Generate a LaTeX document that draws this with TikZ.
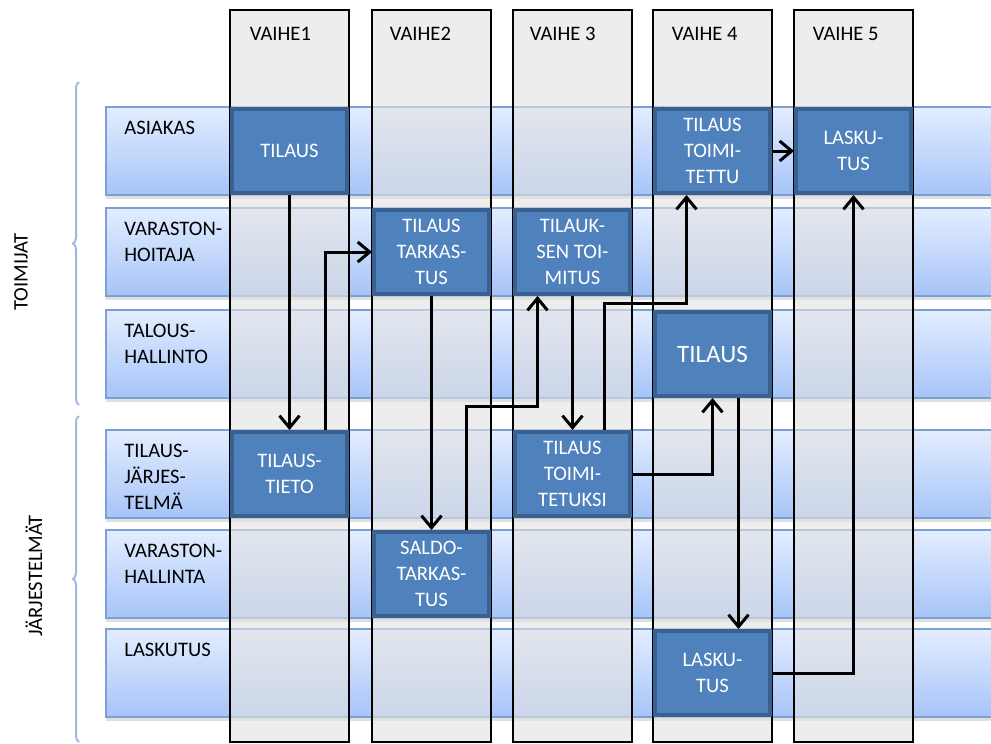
\documentclass[tikz,border=0pt]{standalone}
\usepackage{fontspec}
\setmainfont{Carlito}
\usepackage{xcolor}
\usepackage{tikz}
\usetikzlibrary{arrows.meta, positioning, shadows, decorations.pathreplacing}
\definecolor{lanetop}{HTML}{E3EDFF}
\definecolor{lanebot}{HTML}{A6C4F8}
\definecolor{lanedraw}{HTML}{7C9FD4}
\definecolor{phasefill}{HTML}{E2E2E2}
\definecolor{taskfill}{HTML}{4F81BD}
\definecolor{taskdraw}{HTML}{3A6090}
\definecolor{bracecol}{HTML}{9DB9DE}
\newcommand{\diagfont}{\fontsize{10.3}{13}\selectfont}
\tikzstyle{lane} = [rectangle, anchor=west, minimum width=447.5pt, minimum height=44pt, top color=lanetop, bottom color=lanebot, draw=lanedraw, line width=0.8pt, drop shadow={shadow xshift=0pt, shadow yshift=-2pt, opacity=0.25}]
\tikzstyle{phase} = [rectangle, minimum width=59.5pt, minimum height=366pt, inner sep=0pt, draw=black, line width=0.6pt, fill=phasefill, fill opacity=0.62]
\tikzstyle{lanetext} = [anchor=north west, inner sep=0pt, align=left, font=\diagfont, text=black]
\tikzstyle{phasetext} = [anchor=north west, inner sep=0pt, font=\diagfont, text=black]
\tikzstyle{task} = [rectangle, minimum width=57.5pt, minimum height=42pt, inner sep=1pt, align=center, font=\diagfont, text=white, fill=taskfill, draw=taskdraw, line width=2pt]
\tikzstyle{grouptext} = [rotate=90, inner sep=0pt, font=\diagfont]
\tikzstyle{groupbrace} = [decorate, decoration={brace, amplitude=3pt}, draw=bracecol, line width=1pt]
\tikzstyle{arrow} = [line width=1.5pt, -{Straight Barb[length=6pt, width=10pt]}]

\begin{document}
\begin{tikzpicture}[x=0.5pt, y=-0.5pt]
        \clip (0,0) rectangle (991,744);

        % Lanes
        \node (r1) [lane] at (105,151) {};
        \node (r2) [lane] at (105,252) {};
        \node (r3) [lane] at (105,354) {};
        \node (r4) [lane] at (105,474) {};
        \node (r5) [lane] at (105,574) {};
        \node (r6) [lane] at (105,673) {};

        \node (l1) [lanetext, below right=7.5pt and 9.5pt of r1.north west] {ASIAKAS};
        \node (l2) [lanetext, below right=7.5pt and 9.5pt of r2.north west] {VARASTON-\\HOITAJA};
        \node (l3) [lanetext, below right=7.5pt and 9.5pt of r3.north west] {TALOUS-\\HALLINTO};
        \node (l4) [lanetext, below right=7.5pt and 9.5pt of r4.north west] {TILAUS-\\JÄRJES-\\TELMÄ};
        \node (l5) [lanetext, below right=7.5pt and 9.5pt of r5.north west] {VARASTON-\\HALLINTA};
        \node (l6) [lanetext, below right=7.5pt and 9.5pt of r6.north west] {LASKUTUS};

        % Phases
        \node (c1) [phase] at (289.5,376) {};
        \node (c2) [phase] at (431.5,376) {};
        \node (c3) [phase] at (572.5,376) {};
        \node (c4) [phase] at (712.5,376) {};
        \node (c5) [phase] at (853.5,376) {};

        \node (h1) [phasetext, below right=8.5pt and 10pt of c1.north west] {VAIHE1};
        \node (h2) [phasetext, below right=8.5pt and 9pt of c2.north west] {VAIHE2};
        \node (h3) [phasetext, below right=8.5pt and 8.5pt of c3.north west] {VAIHE 3};
        \node (h4) [phasetext, below right=8.5pt and 9.5pt of c4.north west] {VAIHE 4};
        \node (h5) [phasetext, below right=8.5pt and 9.5pt of c5.north west] {VAIHE 5};

        % Groups
        \draw [groupbrace] (79,405) -- (79,82);
        \draw [groupbrace] (79,742) -- (79,416);
        \node (toimijat) [grouptext] at (21,272) {TOIMIJAT};
        \node (jarj) [grouptext] at (34,576) {JÄRJESTELMÄT};

        % Tasks
        \node (tilaus) [task] at (c1 |- r1) {TILAUS};
        \node (tieto) [task] at (c1 |- r4) {TILAUS-\\TIETO};
        \node (tarkastus) [task] at (c2 |- r2) {TILAUS\\TARKAS-\\TUS};
        \node (saldo) [task] at (c2 |- r5) {SALDO-\\TARKAS-\\TUS};
        \node (toimitus) [task] at (c3 |- r2) {TILAUK-\\SEN TOI-\\MITUS};
        \node (toimitetuksi) [task] at (c3 |- r4) {TILAUS\\TOIMI-\\TETUKSI};
        \node (toimitettu) [task] at (c4 |- r1) {TILAUS\\TOIMI-\\TETTU};
        \node (tilaus3) [task, font=\fontsize{12.5}{15}\selectfont] at (c4 |- r3) {TILAUS};
        \node (lasku4) [task] at (c4 |- r6) {LASKU-\\TUS};
        \node (lasku5) [task] at (c5 |- r1) {LASKU-\\TUS};

        % Arrows
        \draw [arrow] (tilaus) -- (tieto);
        \draw [arrow] ([xshift=18pt]tieto.north) |- (tarkastus.west);
        \draw [arrow] (tarkastus) -- (saldo);
        \draw [arrow] ([xshift=17.5pt]saldo.north) -- ++(0,62pt) -| ([xshift=-17.5pt]toimitus.south);
        \draw [arrow] (toimitus) -- (toimitetuksi);
        \draw [arrow] ([xshift=16pt]toimitetuksi.north) -- ++(0,63.5pt) -| ([xshift=-13pt]toimitettu.south);
        \draw [arrow] (toimitetuksi.east) -| (tilaus3.south);
        \draw [arrow] ([xshift=13pt]tilaus3.south) -- ([xshift=13pt]tilaus3.south |- lasku4.north);
        \draw [arrow] (lasku4.east) -| (lasku5.south);
        \draw [arrow] (toimitettu) -- (lasku5);
    \end{tikzpicture}
\end{document}
